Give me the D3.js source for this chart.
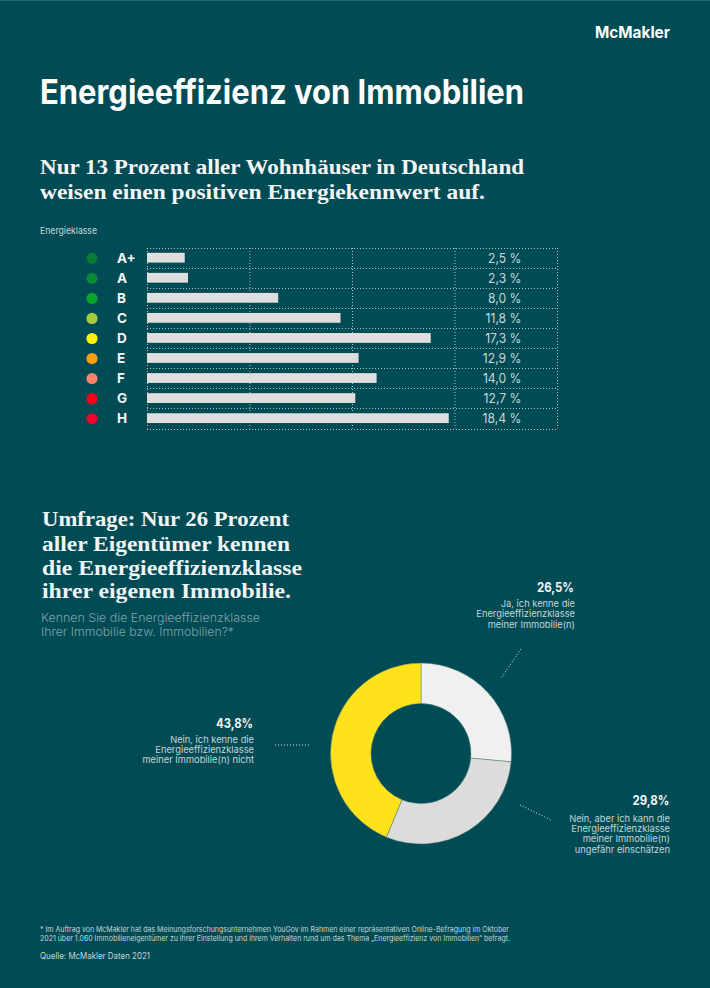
<!DOCTYPE html>
<html lang="de"><head><meta charset="utf-8">
<script src="https://cdn.jsdelivr.net/npm/d3@7"></script>
<style>html,body{margin:0;padding:0;background:#014b55}svg{display:block}text{font-family:Inter,sans-serif}</style>
</head><body><svg id="c" width="710" height="988"></svg>
<script>
const classes=["A+","A","B","C","D","E","F","G","H"];
const dotColors=["#0b7a33","#0a8a33","#08a72b","#a9cc3c","#fff200","#f79f0f","#f98366","#fb0019","#f0002a"];
const labelValues=["2,5 %","2,3 %","8,0 %","11,8 %","17,3 %","12,9 %","14,0 %","12,7 %","18,4 %"];
const barValues=[2.3,2.5,8.0,11.8,17.3,12.9,14.0,12.7,18.4];
const gridTicks=[0,6.25,12.5,18.75,25];
const donutValues=[26.5,29.8,43.8];
const donutColors=["#f0f0f0","#dcdcdc","#ffe21a"];
const svg=d3.select("#c");
svg.append("rect").attr("width",710).attr("height",988).attr("fill","#014b55");
svg.append("rect").attr("width",710).attr("height",1).attr("fill","#1d6a72");
function txt(x,y,s,o={}){const t=svg.append("text").attr("x",x).attr("y",y).text(s)
 .attr("font-size",o.size||10).attr("font-weight",o.weight||400).attr("fill",o.fill||"#fff").attr("text-anchor",o.anchor||"start");
 if(o.family)t.style("font-family",o.family);if(o.len)t.attr("textLength",o.len).attr("lengthAdjust","spacingAndGlyphs");return t;}
const serif="'Liberation Serif',serif";
txt(595,38,"McMakler",{size:15.5,weight:700,len:75});
txt(40,104,"Energieeffizienz von Immobilien",{size:33.5,weight:700,len:484});
txt(40,174,"Nur 13 Prozent aller Wohnhäuser in Deutschland",{size:22,weight:700,family:serif,len:484,fill:"#f6f6f6"});
txt(40,199,"weisen einen positiven Energiekennwert auf.",{size:22,weight:700,family:serif,len:445,fill:"#f6f6f6"});
txt(40,234,"Energieklasse",{size:9.5,fill:"#c4d6d8",len:57});

const x=d3.scaleLinear().domain([0,25]).range([147,557]);
const y=d3.scaleBand().domain(classes).range([248,428.5]);
const dotted="1 2";
const grid=svg.append("g").attr("stroke","#d5e3e4").attr("stroke-opacity",0.8).attr("stroke-width",1).attr("stroke-dasharray",dotted);
grid.selectAll(".v").data(gridTicks).join("line").attr("x1",d=>x(d)+0.5).attr("x2",d=>x(d)+0.5).attr("y1",248).attr("y2",428.5);
const rows=[...classes.map(c=>y(c)),y.range()[1]];
grid.selectAll(".h").data(rows).join("line").attr("x1",x(0)).attr("x2",x(25)).attr("y1",d=>Math.round(d)+0.5).attr("y2",d=>Math.round(d)+0.5);
svg.append("g").selectAll("rect").data(barValues).join("rect").attr("x",x(0)).attr("y",(d,i)=>y(classes[i])+4.8)
 .attr("width",d=>x(d)-x(0)).attr("height",9.8).attr("fill","#dedede");
svg.append("g").selectAll("circle").data(dotColors).join("circle").attr("cx",92).attr("cy",(d,i)=>y(classes[i])+10.3).attr("r",5.6).attr("fill",d=>d);
svg.append("g").selectAll("text").data(classes).join("text").attr("x",117).attr("y",d=>y(d)+14.5).text(d=>d)
 .attr("font-size",13.5).attr("font-weight",700).attr("fill","#f4f4f4");
svg.append("g").selectAll("text").data(labelValues).join("text").attr("x",521.5).attr("y",(d,i)=>y(classes[i])+15).text(d=>d)
 .attr("text-anchor","end").attr("font-size",13.5).attr("fill","#c4d8da").each(function(){
   d3.select(this).attr("textLength",this.getComputedTextLength()*0.9).attr("lengthAdjust","spacingAndGlyphs");});

["Umfrage: Nur 26 Prozent","aller Eigentümer kennen","die Energieeffizienzklasse","ihrer eigenen Immobilie."].forEach((s,i)=>
 txt(42,[526,551,574.5,598][i],s,{size:22,weight:700,family:serif,fill:"#f0f6f6",len:[247,248,260,249][i]}));
txt(41,622,"Kennen Sie die Energieeffizienzklasse",{size:12,weight:300,fill:"#7fa3a8",len:219});
txt(41,636,"Ihrer Immobilie bzw. Immobilien?*",{size:12,weight:300,fill:"#7fa3a8",len:193});

const pie=d3.pie().sort(null)(donutValues);
const arc=d3.arc().innerRadius(50).outerRadius(90.5);
svg.append("g").attr("transform","translate(421,753.5)").selectAll("path").data(pie).join("path").attr("d",arc)
 .attr("fill",(d,i)=>donutColors[i]).attr("stroke","#4f7f78").attr("stroke-width",0.5);

const pct={size:13,weight:700,anchor:"end",fill:"#f4f4f4",len:37},sm={size:9.3,anchor:"end",fill:"#c4d6d8"};
txt(574,592,"26,5%",pct);
["Ja, ich kenne die","Energieeffizienzklasse","meiner Immobilie(n)"].forEach((s,i)=>txt(575,607+i*10.3,s,sm));
txt(669.5,805,"29,8%",pct);
["Nein, aber ich kann die","Energieeffizienzklasse","meiner Immobilie(n)","ungefähr einschätzen"].forEach((s,i)=>txt(670,822+i*10.2,s,sm));
txt(253,728,"43,8%",pct);
["Nein, ich kenne die","Energieeffizienzklasse","meiner Immobilie(n) nicht"].forEach((s,i)=>txt(254,743+i*10.2,s,sm));
[[521,649,502,677],[520,805,551,820],[275,745,309,745]].forEach(l=>svg.append("line").attr("x1",l[0]).attr("y1",l[1]).attr("x2",l[2]).attr("y2",l[3])
 .attr("stroke","#dfe9ea").attr("stroke-width",1).attr("stroke-dasharray","1 2"));

txt(40,932,"* Im Auftrag von McMakler hat das Meinungsforschungsunternehmen YouGov im Rahmen einer repräsentativen Online-Befragung im Oktober",{size:7.5,fill:"#c4d6d8",len:469});
txt(40,941,"2021 über 1.060 Immobilieneigentümer zu ihrer Einstellung und ihrem Verhalten rund um das Thema „Energieeffizienz von Immobilien“ befragt.",{size:7.5,fill:"#c4d6d8",len:470});
txt(40,959,"Quelle: McMakler Daten 2021",{size:8.5,fill:"#c4d6d8",len:110});
</script></body></html>
